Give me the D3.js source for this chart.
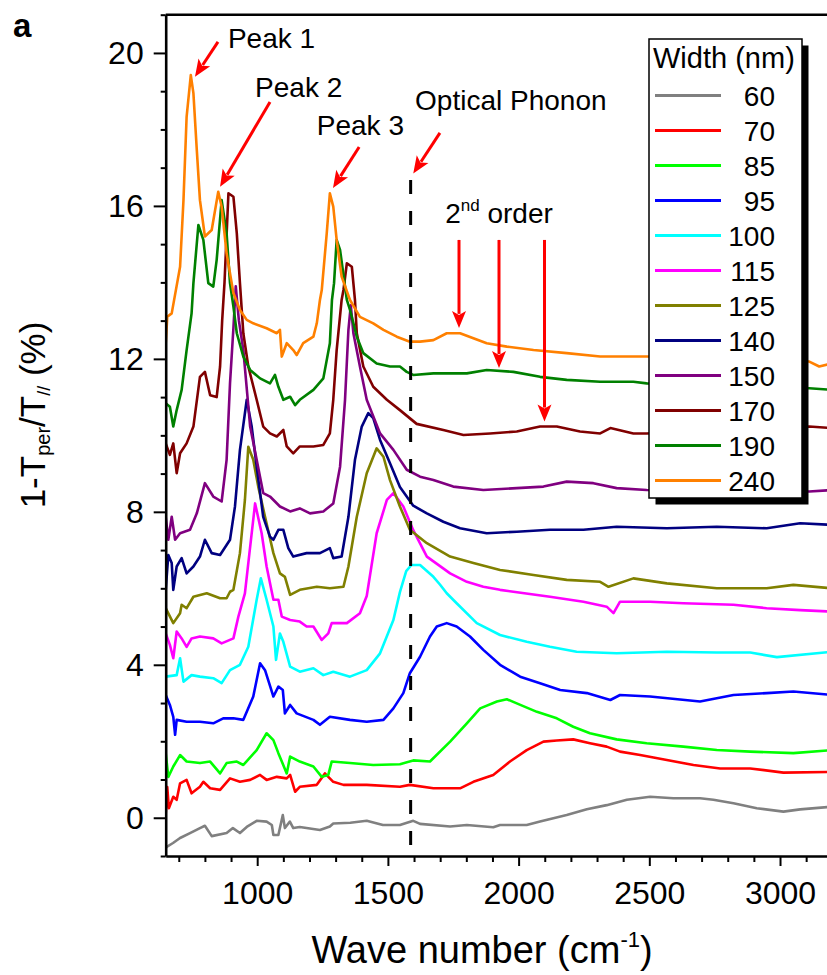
<!DOCTYPE html>
<html>
<head>
<meta charset="utf-8">
<script src="https://cdn.jsdelivr.net/npm/d3@7"></script>
<style>
  body { margin: 0; background: #fff; }
  svg { display: block; }
  text { font-family: "Liberation Sans", Arial, sans-serif; fill: #000; }
</style>
</head>
<body>
<svg id="chart" width="827" height="975"></svg>
<script>
// ---- data (wave number cm^-1, 1 - Tper/T// in %) ----
const widths = [60, 70, 85, 95, 100, 115, 125, 140, 150, 170, 190, 240];
const colors = ['#808080', '#ff0000', '#00ff00', '#0000ff', '#00ffff', '#ff00ff',
  '#808000', '#000080', '#800080', '#800000', '#008000', '#ff8000'];

const s60 = [[650,-0.8],[654,-0.76],[678,-0.66],[705,-0.53],[743,-0.4],[781,-0.27],[800,-0.21],[826,-0.48],[883,-0.4],[907,-0.27],[934,-0.4],[960,-0.24],[998,-0.08],[1036,-0.1],[1056,-0.19],[1062,-0.45],[1081,-0.45],[1098,0.07],[1106,-0.27],[1125,-0.1],[1138,-0.27],[1163,-0.24],[1240,-0.32],[1278,-0.23],[1291,-0.15],[1356,-0.13],[1419,-0.08],[1481,-0.19],[1546,-0.19],[1597,-0.08],[1623,-0.16],[1738,-0.23],[1802,-0.19],[1903,-0.25],[1929,-0.19],[2031,-0.19],[2082,-0.1],[2133,-0.01],[2184,0.07],[2261,0.22],[2337,0.33],[2414,0.47],[2503,0.55],[2592,0.51],[2694,0.51],[2745,0.47],[2822,0.38],[2911,0.25],[3013,0.16],[3077,0.22],[3200,0.29]];

const s70 = [[650,0.1],[656,0.8],[662,0.25],[679,0.55],[692,0.47],[705,0.9],[730,0.99],[749,0.64],[781,0.81],[794,0.94],[820,0.77],[858,0.73],[896,1.03],[934,0.94],[973,0.99],[1011,1.12],[1036,0.99],[1075,1.07],[1113,1.03],[1126,1.12],[1145,0.68],[1163,0.81],[1228,0.86],[1259,1.16],[1291,0.94],[1330,0.86],[1419,0.86],[1546,0.81],[1584,0.86],[1674,0.77],[1776,0.77],[1827,0.94],[1903,1.12],[1967,1.47],[2031,1.77],[2095,1.99],[2146,2.02],[2209,2.05],[2273,1.95],[2337,1.86],[2388,1.73],[2465,1.64],[2567,1.51],[2669,1.38],[2771,1.29],[2886,1.29],[3013,1.18],[3200,1.2]];

const s85 = [[650,1.69],[660,1.07],[679,1.34],[705,1.64],[730,1.47],[781,1.43],[820,1.47],[858,1.16],[883,1.43],[922,1.47],[947,1.38],[998,1.77],[1036,2.21],[1062,2.03],[1081,1.69],[1113,1.16],[1126,1.6],[1163,1.47],[1215,1.34],[1247,1.07],[1272,1.12],[1285,1.47],[1355,1.43],[1444,1.38],[1546,1.4],[1597,1.5],[1661,1.47],[1738,1.99],[1802,2.47],[1853,2.86],[1917,3.04],[1955,3.1],[1993,2.99],[2070,2.77],[2146,2.6],[2209,2.38],[2273,2.21],[2375,2.05],[2490,1.95],[2630,1.86],[2758,1.77],[2886,1.73],[3051,1.69],[3200,1.77]];

const s95 = [[650,3.21],[666,2.95],[679,2.64],[686,2.17],[692,2.56],[730,2.51],[781,2.51],[832,2.47],[870,2.6],[909,2.6],[947,2.56],[985,3.17],[1011,4.04],[1030,3.86],[1050,3.43],[1062,3.17],[1081,3.43],[1098,3.34],[1106,2.73],[1126,2.95],[1151,2.73],[1215,2.56],[1240,2.43],[1278,2.64],[1355,2.56],[1419,2.51],[1483,2.56],[1521,2.86],[1559,3.26],[1584,3.78],[1623,4.21],[1661,4.74],[1687,5.0],[1725,5.09],[1763,5.0],[1814,4.74],[1865,4.39],[1929,4.0],[2006,3.69],[2082,3.52],[2159,3.34],[2261,3.26],[2351,3.08],[2388,3.21],[2503,3.17],[2694,3.04],[2822,3.21],[2949,3.26],[3051,3.3],[3200,3.21]];

const s100 = [[650,3.69],[692,3.73],[705,4.17],[718,3.56],[749,3.73],[781,3.69],[832,3.65],[864,3.52],[896,3.86],[934,4.0],[966,4.47],[998,5.7],[1014,6.26],[1036,5.7],[1062,5.0],[1072,4.13],[1087,4.82],[1100,4.6],[1126,3.95],[1163,3.82],[1215,3.91],[1253,3.73],[1291,3.82],[1355,3.69],[1419,3.86],[1470,4.3],[1521,5.17],[1546,5.9],[1570,6.45],[1590,6.61],[1623,6.61],[1674,6.3],[1699,6.1],[1725,5.87],[1763,5.61],[1840,5.09],[1929,4.78],[2031,4.6],[2120,4.47],[2222,4.34],[2375,4.3],[2567,4.34],[2758,4.32],[2886,4.32],[2988,4.2],[3200,4.34]];

const s115 = [[650,4.82],[666,4.52],[679,4.17],[692,4.87],[711,4.69],[730,4.47],[749,4.69],[781,4.74],[832,4.69],[864,4.56],[909,4.69],[928,5.26],[953,5.87],[970,6.9],[992,8.22],[1017,7.44],[1036,6.57],[1062,5.7],[1081,5.7],[1094,5.26],[1126,5.17],[1163,5.13],[1189,5.0],[1215,5.0],[1247,4.65],[1272,4.82],[1285,5.09],[1343,5.09],[1393,5.35],[1419,5.8],[1457,7.44],[1496,8.31],[1521,8.49],[1559,8.14],[1597,7.52],[1649,6.83],[1738,6.39],[1802,6.17],[1865,6.04],[1929,5.96],[1980,5.91],[2120,5.78],[2248,5.65],[2337,5.52],[2363,5.35],[2388,5.65],[2503,5.65],[2630,5.61],[2822,5.57],[2949,5.48],[3077,5.43],[3200,5.39]];

const s125 = [[650,5.48],[679,5.09],[705,5.35],[711,5.57],[730,5.48],[756,5.78],[807,5.87],[858,5.74],[883,5.74],[896,5.91],[909,5.96],[934,6.92],[953,8.31],[966,9.7],[985,9.36],[1004,8.66],[1030,7.87],[1062,6.92],[1087,6.39],[1106,6.3],[1126,5.83],[1163,5.96],[1228,6.04],[1278,6.0],[1330,6.04],[1349,6.57],[1381,7.87],[1419,9.01],[1457,9.66],[1483,9.44],[1508,8.83],[1546,8.14],[1584,7.53],[1649,7.18],[1738,6.83],[1827,6.66],[1929,6.48],[2057,6.35],[2184,6.22],[2312,6.17],[2344,6.04],[2439,6.26],[2567,6.13],[2758,6.0],[2949,6.0],[3051,6.09],[3200,6.0]];

const s140 = [[650,5.96],[660,6.87],[673,6.66],[679,5.96],[692,6.57],[711,6.79],[730,6.39],[756,6.57],[781,6.83],[800,7.27],[826,6.92],[858,6.87],[896,7.27],[915,8.14],[934,9.62],[960,10.93],[979,10.23],[998,9.18],[1023,7.87],[1049,7.35],[1062,7.27],[1081,7.53],[1100,7.53],[1119,7.05],[1138,6.83],[1189,6.92],[1240,6.92],[1278,7.05],[1291,6.79],[1323,6.83],[1349,7.87],[1374,9.36],[1400,10.23],[1425,10.58],[1444,10.45],[1470,9.88],[1508,9.27],[1546,8.65],[1597,8.16],[1649,7.96],[1712,7.74],[1776,7.57],[1878,7.44],[1993,7.48],[2120,7.53],[2248,7.53],[2375,7.61],[2567,7.57],[2758,7.61],[2949,7.57],[3077,7.7],[3200,7.66]];

const s150 = [[650,7.87],[660,7.27],[673,7.87],[686,7.27],[705,7.44],[743,7.53],[769,7.96],[800,8.75],[832,8.4],[864,8.27],[883,9.36],[896,11.36],[909,12.8],[918,13.9],[930,13.0],[947,12.23],[973,10.23],[998,9.36],[1023,8.49],[1049,8.4],[1087,8.14],[1126,8.01],[1163,8.09],[1202,7.96],[1253,8.01],[1291,8.22],[1317,9.18],[1336,10.93],[1349,12.76],[1358,13.4],[1368,12.67],[1393,11.8],[1419,10.93],[1470,10.05],[1521,9.62],[1572,9.1],[1623,8.92],[1674,8.83],[1750,8.66],[1865,8.57],[1993,8.62],[2095,8.66],[2184,8.79],[2286,8.75],[2375,8.62],[2490,8.57],[3112,8.53],[3200,8.57]];

const s170 = [[650,9.79],[666,9.49],[679,9.79],[692,9.01],[705,9.53],[730,9.79],[756,10.23],[781,11.53],[800,11.66],[820,11.05],[845,11.0],[858,11.8],[866,13.0],[875,14.0],[890,16.33],[909,16.24],[922,15.28],[934,13.98],[947,12.67],[966,11.8],[998,10.93],[1023,10.23],[1049,10.05],[1075,9.97],[1100,10.14],[1113,9.71],[1138,9.53],[1163,9.71],[1215,9.71],[1253,9.75],[1278,10.05],[1291,10.93],[1304,12.23],[1323,13.54],[1330,13.8],[1343,14.5],[1362,14.41],[1374,13.54],[1381,12.67],[1406,11.8],[1444,11.27],[1496,10.93],[1546,10.66],[1610,10.3],[1712,10.14],[1789,10.01],[1891,10.05],[1993,10.1],[2082,10.23],[2146,10.23],[2235,10.1],[2312,10.05],[2351,10.19],[2439,10.05],[2490,10.05],[3112,10.23],[3200,10.19]];

const s190 = [[650,10.84],[666,10.75],[679,10.23],[692,10.66],[711,11.19],[730,12.23],[749,13.19],[756,13.98],[775,15.5],[794,15.11],[813,13.98],[832,13.89],[845,14.59],[864,16.15],[883,15.28],[896,13.98],[909,13.37],[922,12.67],[947,12.06],[973,11.71],[1011,11.49],[1049,11.36],[1068,11.58],[1081,11.27],[1100,10.93],[1126,11.01],[1145,10.79],[1163,10.93],[1215,11.19],[1253,11.49],[1278,12.41],[1286,13.54],[1294,13.98],[1304,15.11],[1317,14.85],[1343,13.54],[1355,13.28],[1381,12.58],[1406,12.15],[1457,11.88],[1508,11.8],[1546,11.8],[1572,11.66],[1597,11.58],[1674,11.62],[1802,11.62],[1878,11.71],[1980,11.66],[2082,11.53],[2184,11.45],[2312,11.4],[2439,11.4],[2490,11.36],[3112,11.23],[3200,11.19]];

const s240 = [[650,12.4],[656,13.1],[673,13.19],[705,14.41],[718,16.15],[730,18.33],[746,19.42],[756,18.95],[769,17.46],[781,16.15],[800,15.2],[826,15.37],[851,16.37],[864,15.98],[883,14.76],[909,13.72],[934,13.28],[960,13.02],[985,12.93],[1036,12.8],[1075,12.67],[1087,12.76],[1094,12.06],[1113,12.41],[1138,12.23],[1151,12.1],[1176,12.41],[1215,12.58],[1228,12.93],[1240,13.54],[1247,13.8],[1266,15.28],[1278,16.33],[1291,15.98],[1304,15.11],[1323,14.15],[1355,13.54],[1393,13.1],[1444,12.93],[1483,12.76],[1534,12.58],[1584,12.45],[1623,12.45],[1674,12.49],[1725,12.67],[1776,12.67],[1827,12.54],[1878,12.41],[1955,12.32],[2057,12.23],[2184,12.15],[2312,12.06],[2439,12.06],[2490,12.06],[3112,11.93],[3150,11.8],[3200,11.88]];

const seriesData = [s60, s70, s85, s95, s100, s115, s125, s140, s150, s170, s190, s240];

const xMajorTicks = [1000, 1500, 2000, 2500, 3000];
const xMinorTicks = d3.range(700, 3201, 100).filter((v) => !xMajorTicks.includes(v));
const yMajorTicks = [0, 4, 8, 12, 16, 20];
const yMinorTicks = d3.range(-1, 22, 1).filter((v) => !yMajorTicks.includes(v));

const phononWave = 1587;
const secondOrderWaves = [1772, 1925, 2099];
const secondOrderTips = [12.81, 11.76, 10.36];

// ---- layout ----
const svg = d3.select('#chart');
const plot = { left: 165.7, right: 832.3, top: 14.7, bottom: 856 };

const x = d3.scaleLinear().domain([650, 3200]).range([plot.left, plot.right]);
const y = d3.scaleLinear().domain([-1, 21]).range([plot.bottom, plot.top]);

svg.append('rect').attr('width', 827).attr('height', 975).attr('fill', '#fff');

svg.append('defs').append('clipPath').attr('id', 'clip')
  .append('rect')
  .attr('x', plot.left).attr('y', plot.top)
  .attr('width', plot.right - plot.left).attr('height', plot.bottom - plot.top);

// curves
const line = d3.line().x((d) => x(d[0])).y((d) => y(d[1]));
const curves = svg.append('g').attr('clip-path', 'url(#clip)');
seriesData.forEach((data, i) => {
  curves.append('path')
    .datum(data)
    .attr('fill', 'none')
    .attr('stroke', colors[i])
    .attr('stroke-width', 2.6)
    .attr('stroke-linejoin', 'round')
    .attr('d', line);
});

// optical phonon dashed line
svg.append('line')
  .attr('x1', x(phononWave)).attr('x2', x(phononWave))
  .attr('y1', y(16.68)).attr('y2', y(-1))
  .attr('stroke', '#000').attr('stroke-width', 3)
  .attr('stroke-dasharray', '14,17');

// axes
const axisFont = (g, size) => g.selectAll('text')
  .style('font-family', '"Liberation Sans", Arial, sans-serif')
  .style('font-size', size + 'px')
  .attr('fill', '#000');

const xAxis = svg.append('g')
  .attr('transform', `translate(0,${plot.bottom})`)
  .call(d3.axisBottom(x).tickValues(xMajorTicks).tickSize(10).tickSizeOuter(0).tickPadding(15).tickFormat(d3.format('d')));
xAxis.select('.domain').attr('stroke-width', 2.6);
xAxis.selectAll('.tick line').attr('stroke-width', 2);
axisFont(xAxis, 32);

const xMinor = svg.append('g')
  .attr('transform', `translate(0,${plot.bottom})`)
  .call(d3.axisBottom(x).tickValues(xMinorTicks).tickSize(6).tickFormat(''));
xMinor.select('.domain').remove();
xMinor.selectAll('.tick line').attr('stroke-width', 2);

const yAxis = svg.append('g')
  .attr('transform', `translate(${plot.left},0)`)
  .call(d3.axisLeft(y).tickValues(yMajorTicks).tickSize(12).tickSizeOuter(0).tickPadding(10));
yAxis.select('.domain').attr('stroke-width', 2.6);
yAxis.selectAll('.tick line').attr('stroke-width', 2);
axisFont(yAxis, 32);

const yMinor = svg.append('g')
  .attr('transform', `translate(${plot.left},0)`)
  .call(d3.axisLeft(y).tickValues(yMinorTicks).tickSize(5).tickFormat(''));
yMinor.select('.domain').remove();
yMinor.selectAll('.tick line').attr('stroke-width', 2);

// top frame
svg.append('line')
  .attr('x1', plot.left).attr('x2', plot.right)
  .attr('y1', plot.top).attr('y2', plot.top)
  .attr('stroke', '#000').attr('stroke-width', 2.6);

// axis titles
const xTitle = svg.append('text')
  .attr('x', 482).attr('y', 963)
  .attr('text-anchor', 'middle')
  .style('font-size', '38px');
xTitle.append('tspan').text('Wave number (cm');
xTitle.append('tspan').attr('dy', -16).style('font-size', '22px').text('-1');
xTitle.append('tspan').attr('dy', 16).text(')');

const yTitle = svg.append('text')
  .attr('transform', 'translate(45,415) rotate(-90)')
  .attr('text-anchor', 'middle')
  .style('font-size', '35px');
yTitle.append('tspan').text('1-T');
yTitle.append('tspan').attr('dy', 5).style('font-size', '20px').text('per');
yTitle.append('tspan').attr('dy', -5).text('/T');
yTitle.append('tspan').attr('dy', 5).style('font-size', '18px').text('//');
yTitle.append('tspan').attr('dy', -5).text(' (%)');

svg.append('text')
  .attr('x', 13).attr('y', 37)
  .style('font-size', '33px').style('font-weight', 'bold')
  .text('a');

// annotations (red arrows)
function arrow(x1, y1, x2, y2) {
  const p1 = [x(x1), y(y1)];
  const p2 = [x(x2), y(y2)];
  const dx = p2[0] - p1[0];
  const dy = p2[1] - p1[1];
  const len = Math.hypot(dx, dy);
  const ux = dx / len;
  const uy = dy / len;
  const head = 17;
  const half = 7;
  const bx = p2[0] - ux * head;
  const by = p2[1] - uy * head;
  svg.append('line')
    .attr('x1', p1[0]).attr('y1', p1[1])
    .attr('x2', bx + ux * 3).attr('y2', by + uy * 3)
    .attr('stroke', '#ff0000').attr('stroke-width', 3);
  svg.append('path')
    .attr('d', `M${p2[0]},${p2[1]}L${bx - uy * half},${by + ux * half}L${bx + ux * 4},${by + uy * 4}L${bx + uy * half},${by - ux * half}Z`)
    .attr('fill', '#ff0000');
}

function label(wave, val, txt) {
  return svg.append('text')
    .attr('x', x(wave)).attr('y', y(val))
    .style('font-size', '28px')
    .text(txt);
}

label(888, 20.13, 'Peak 1');
arrow(850, 20.29, 762, 19.38);
label(992, 18.86, 'Peak 2');
arrow(1049, 18.72, 858, 16.5);
label(1228, 17.86, 'Peak 3');
arrow(1390, 17.54, 1290, 16.47);
label(1604, 18.5, 'Optical Phonon');
arrow(1699, 17.91, phononWave + 10, 16.85);

const second = label(1719, 15.55, '2');
second.append('tspan').attr('dy', -12).style('font-size', '17px').text('nd');
second.append('tspan').attr('dy', 12).text(' order');
secondOrderWaves.forEach((w, i) => arrow(w, 15.11, w, secondOrderTips[i]));

// legend
const legend = svg.append('g');
legend.append('rect')
  .attr('x', 655.5).attr('y', 45.5).attr('width', 153).attr('height', 459)
  .attr('fill', '#000');
legend.append('rect')
  .attr('x', 649).attr('y', 39).attr('width', 153).attr('height', 459)
  .attr('fill', '#fff').attr('stroke', '#000').attr('stroke-width', 1.5);
legend.append('text')
  .attr('x', 653).attr('y', 68)
  .style('font-size', '29px')
  .text('Width (nm)');
widths.forEach((w, i) => {
  const ly = 95.5 + i * 35;
  legend.append('line')
    .attr('x1', 655).attr('x2', 721)
    .attr('y1', ly).attr('y2', ly)
    .attr('stroke', colors[i]).attr('stroke-width', 3);
  legend.append('text')
    .attr('x', 775).attr('y', ly + 10)
    .attr('text-anchor', 'end')
    .style('font-size', '28px')
    .text(w);
});
</script>
</body>
</html>
